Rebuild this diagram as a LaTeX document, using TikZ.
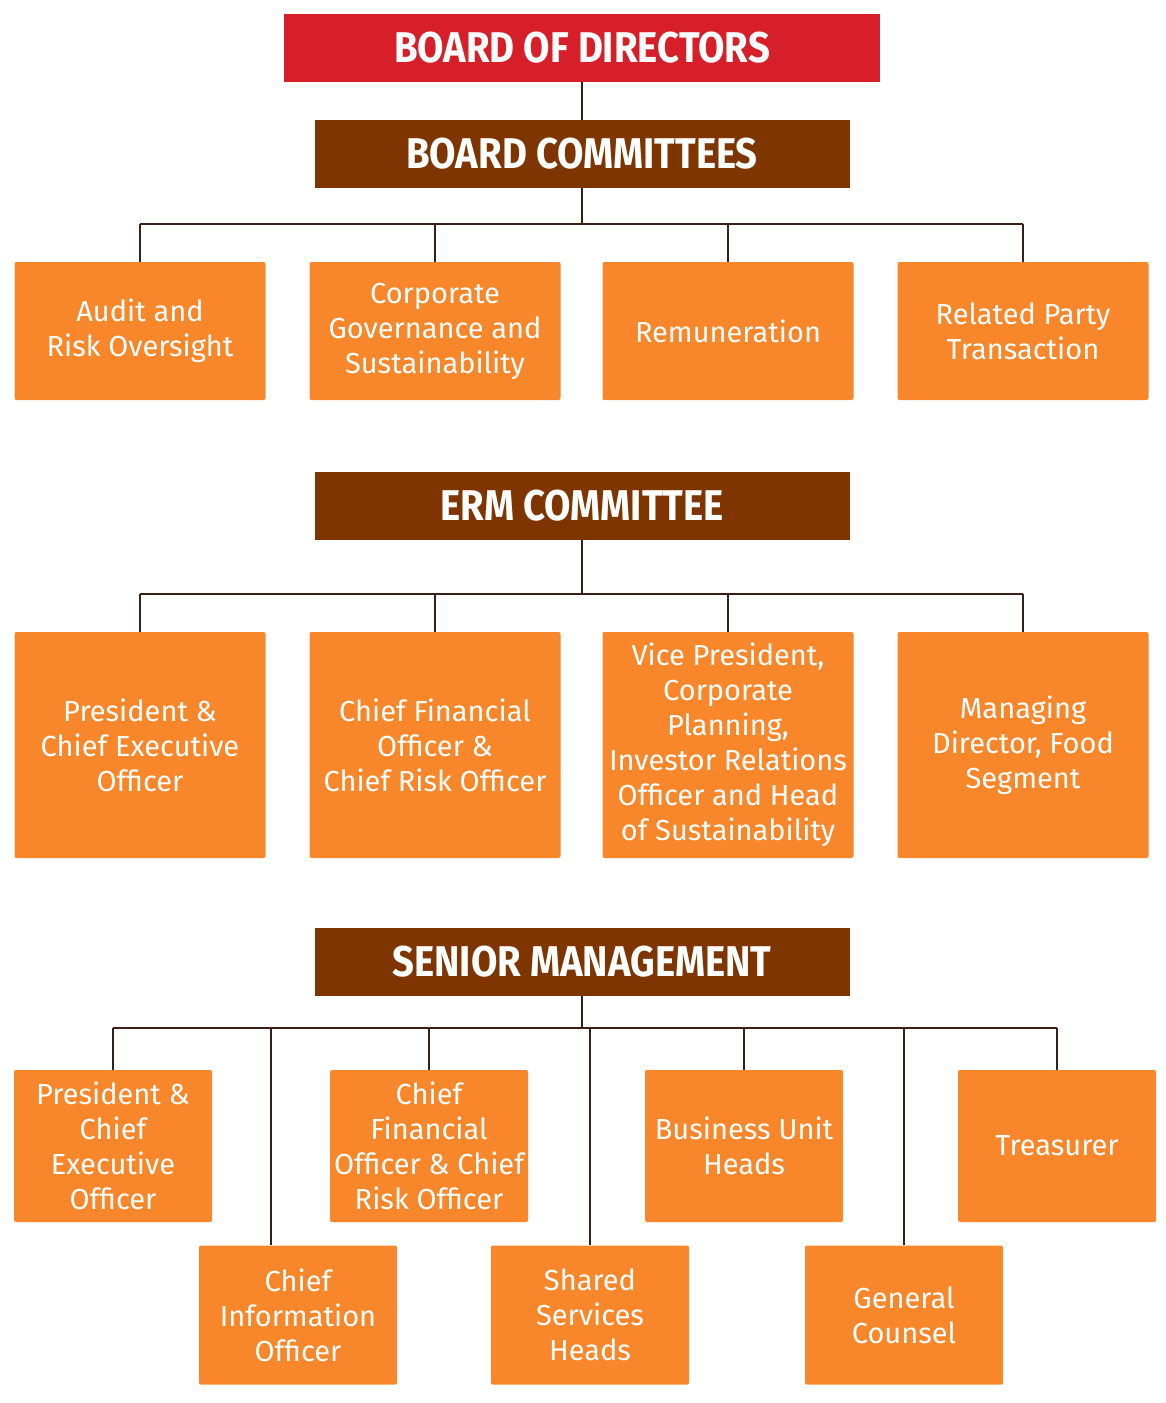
\documentclass[tikz,border=0pt]{standalone}
\usepackage{fontspec}
\setmainfont{Fira Sans}
\newfontfamily\headfont[FakeStretch=0.89]{Fira Sans}
\usepackage{tikz}

\definecolor{bodred}{HTML}{D71F29}
\definecolor{headbrown}{HTML}{7E3500}
\definecolor{unitorange}{HTML}{F7872A}
\definecolor{linkbrown}{HTML}{3A1F14}

\begin{document}
\begin{tikzpicture}[x=1pt, y=-1pt,
    board/.style={fill=bodred, text=white, minimum width=596pt, minimum height=68pt,
      font=\headfont\bfseries\fontsize{43}{46}\selectfont},
    headbar/.style={fill=headbrown, text=white, minimum width=535pt, minimum height=68pt,
      font=\headfont\bfseries\fontsize{43}{46}\selectfont},
    unit/.style={fill=unitorange, text=white, align=center, inner sep=0pt,
      rounded corners=2pt, font=\fontsize{29}{35}\selectfont},
    wide/.style={unit, minimum width=251pt},
    small/.style={unit, minimum width=198pt},
    link/.style={draw=linkbrown, line width=2.6pt}]

    \useasboundingbox (0,0) rectangle (1166,1403);

    % Headers
    \node[board] (bod) at (582,48) {BOARD OF DIRECTORS};
    \node[headbar] (bc) at (582,154) {BOARD COMMITTEES};
    \node[headbar] (erm) at (582,506) {ERM COMMITTEE};
    \node[headbar] (sm) at (582,962) {SENIOR MANAGEMENT};

    % Board committees
    \foreach \x/\nm/\txt in {140/aud/{Audit and\\Risk Oversight},
        435/cgs/{Corporate\\Governance and\\Sustainability},
        728/rem/{Remuneration},
        1023/rpt/{Related Party\\Transaction}}
      \node[wide, minimum height=138pt] (\nm) at (\x,331) {\txt};

    % ERM committee members
    \foreach \x/\nm/\txt in {140/pce/{President \&\\Chief Executive\\Officer},
        435/cfo/{Chief Financial\\Officer \&\\Chief Risk Officer},
        728/vpc/{Vice President,\\Corporate\\Planning,\\Investor Relations\\Officer and Head\\of Sustainability},
        1023/mdf/{Managing\\Director, Food\\Segment}}
      \node[wide, minimum height=226pt] (\nm) at (\x,745) {\txt};

    % Senior management, upper row
    \foreach \x/\nm/\txt in {113/smpce/{President \&\\Chief\\Executive\\Officer},
        429/smcfo/{Chief\\Financial\\Officer \& Chief\\Risk Officer},
        744/buh/{Business Unit\\Heads},
        1057/tre/{Treasurer}}
      \node[small, minimum height=152pt] (\nm) at (\x,1146) {\txt};

    % Senior management, lower row
    \foreach \x/\nm/\txt in {298/cio/{Chief\\Information\\Officer},
        590/ssh/{Shared\\Services\\Heads},
        904/gc/{General\\Counsel}}
      \node[small, minimum height=139pt] (\nm) at (\x,1315) {\txt};

    % Bus lines
    \coordinate (busa) at (582,224);
    \coordinate (busb) at (582,594);
    \coordinate (busc) at (582,1028);

    \draw[link] (bod) -- (bc);
    \draw[link] (bc) -- (busa);
    \draw[link] (aud.north |- busa) -- (rpt.north |- busa);
    \foreach \nm in {aud,cgs,rem,rpt}
      \draw[link] (\nm.north) -- (\nm.north |- busa);

    \draw[link] (erm) -- (busb);
    \draw[link] (pce.north |- busb) -- (mdf.north |- busb);
    \foreach \nm in {pce,cfo,vpc,mdf}
      \draw[link] (\nm.north) -- (\nm.north |- busb);

    \draw[link] (sm) -- (busc);
    \draw[link] (smpce.north |- busc) -- (tre.north |- busc);
    \foreach \nm in {smpce,smcfo,buh,tre,ssh,gc}
      \draw[link] (\nm.north) -- (\nm.north |- busc);
    \draw[link] ([xshift=-27pt]cio.north) -- ([xshift=-27pt]cio.north |- busc);

\end{tikzpicture}
\end{document}
